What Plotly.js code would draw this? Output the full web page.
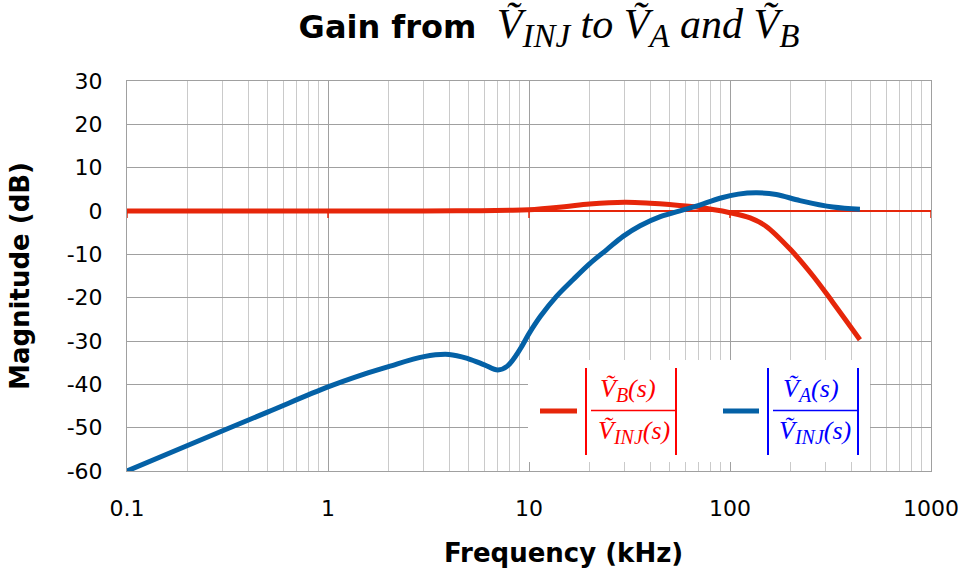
<!DOCTYPE html>
<html>
<head>
<meta charset="utf-8">
<script src="https://cdn.plot.ly/plotly-3.0.1.min.js"></script>
<style>body{margin:0;background:#fff}#chart{width:960px;height:574px}</style>
</head>
<body>
<div id="chart"></div>
<script>
// Frequency (kHz) and magnitude (dB)
const freqA = [0.1, 0.2, 0.5, 1, 1.5, 2, 3, 4, 5, 6, 7, 7.8, 9, 10, 11.4, 13.7, 16.6, 20, 24.4, 29.5, 35.7, 45, 58, 68, 90, 110, 136, 170, 223, 325, 443];
const magA  = [-60, -54.1, -46.4, -40.6, -37.7, -35.9, -33.6, -33.1, -34.1, -35.5, -36.7, -35.8, -32, -28.3, -24.3, -19.7, -15.8, -12.2, -8.9, -5.8, -3.4, -1.3, 0.2, 1.1, 3.0, 3.9, 4.2, 3.8, 2.4, 0.9, 0.4];
const freqB = [0.1, 1, 3, 5, 8, 10, 15, 20, 30, 40, 50, 68, 100, 126, 151, 200, 259, 325, 443];
const magB  = [0, 0, 0, 0.05, 0.15, 0.3, 1.0, 1.6, 2.0, 1.8, 1.5, 0.9, -0.4, -1.6, -3.5, -8.9, -15, -21.1, -29.7];
const xTicks = [0.1, 1, 10, 100, 1000];
const xTickText = ["0.1", "1", "10", "100", "1000"];
const yTicks = [30, 20, 10, 0, -10, -20, -30, -40, -50, -60];
const yTickText = ["30", "20", "10", "0", "-10", "-20", "-30", "-40", "-50", "-60"];

const W = 960, H = 574, L = 127, R = 931, T = 81, B = 471;
const px = x => (x - L) / (R - L);
const py = y => (B - y) / (B - T);

const minorVals = [];
for (let d = 0.1; d < 1000; d *= 10) for (let k = 2; k <= 9; k++) minorVals.push(+(d * k).toPrecision(3));

const RED = '#E6260A', BLUE = '#0461A6';
const SANS = 'DejaVu Sans, Arial, sans-serif';
const serif = 'Liberation Serif, Times New Roman, serif';
const VT = '\u1E7C'; // V with tilde

const traces = [
  {x: freqB, y: magB, mode: 'lines', line: {color: RED, width: 5, shape: 'spline', smoothing: 1}, hoverinfo: 'skip'},
  {x: freqA, y: magA, mode: 'lines', line: {color: BLUE, width: 5, shape: 'spline', smoothing: 1}, hoverinfo: 'skip'}
];

const shapes = [];
// zero-axis tick marks
xTicks.forEach(v => shapes.push({type: 'line', xref: 'x', yref: 'y', ysizemode: 'pixel', yanchor: 0,
  x0: v, x1: v, y0: 0, y1: -7, line: {color: RED, width: 1.5}}));
// legend box
shapes.push({type: 'rect', xref: 'paper', yref: 'paper', x0: px(528), x1: px(870), y0: py(462), y1: py(360),
  fillcolor: '#fff', line: {width: 0}, layer: 'above'});
const seg = (x0, y0, x1, y1, c, w) => shapes.push({type: 'line', xref: 'paper', yref: 'paper', layer: 'above',
  x0: px(x0), x1: px(x1), y0: py(y0), y1: py(y1), line: {color: c, width: w}});
seg(540, 411, 577, 411, RED, 5);
seg(586, 368, 586, 455, '#FF0000', 2);
seg(676, 368, 676, 455, '#FF0000', 2);
seg(591, 410.5, 675, 410.5, '#FF0000', 1.5);
seg(723, 411, 759, 411, BLUE, 5);
seg(768, 368, 768, 455, '#0000FF', 2);
seg(858, 368, 858, 455, '#0000FF', 2);
seg(773, 410.5, 857, 410.5, '#0000FF', 1.5);

const sub = s => '<sub><span style="font-size:20px">' + s + '</span></sub>';
const ann = (x, y, text, c) => ({xref: 'paper', yref: 'paper', x: px(x), y: py(y), xanchor: 'center', yanchor: 'middle',
  showarrow: false, text: text, font: {family: serif, size: 26, color: c}});
const annotations = [
  ann(628, 390, '<i>V\u0303' + sub('B') + '(s)</i>', '#FF0000'),
  ann(634, 432, '<i>V\u0303' + sub('INJ') + '(s)</i>', '#FF0000'),
  ann(811, 390, '<i>V\u0303' + sub('A') + '(s)</i>', '#0000FF'),
  ann(815, 432, '<i>V\u0303' + sub('INJ') + '(s)</i>', '#0000FF'),
  // x-axis title (offset to the right of the plot centre, as in the reference)
  {xref: 'paper', yref: 'paper', x: px(563), y: py(553), xanchor: 'center', yanchor: 'middle', showarrow: false,
   text: '<b>Frequency (kHz)</b>', font: {family: SANS, size: 26, color: '#000'}}
];

const tsub = s => '<sub><span style="font-size:33px">' + s + '</span></sub>';
const layout = {
  width: W, height: H,
  margin: {l: L, r: W - R, t: T, b: H - B, pad: 0},
  paper_bgcolor: '#fff', plot_bgcolor: '#fff',
  showlegend: false,
  title: {
    text: '<b>Gain from</b>  <span style="font-family:Liberation Serif;font-size:42px"><i>' + VT + tsub('INJ') +
      ' to ' + VT + tsub('A') + ' and ' + VT + tsub('B') + '</i></span>',
    x: 549 / W, xanchor: 'center', y: 1 - 27 / H, yanchor: 'middle',
    font: {family: SANS, size: 32, color: '#000'}
  },
  xaxis: {
    type: 'log', range: [-1, 3],
    tickvals: xTicks, ticktext: xTickText, ticks: '',
    tickfont: {family: SANS, size: 22, color: '#000'},
    ticklabelstandoff: 18,
    showgrid: true, gridcolor: '#A0A0A0', gridwidth: 1,
    minor: {tickvals: minorVals, showgrid: true, gridcolor: '#CACACA', gridwidth: 1, ticks: ''},
    showline: true, linecolor: '#A0A0A0', linewidth: 1, mirror: true,
    zeroline: false
  },
  yaxis: {
    range: [-60, 30], tickvals: yTicks, ticktext: yTickText, ticks: '',
    tickfont: {family: SANS, size: 22, color: '#000'},
    ticklabelstandoff: 19,
    showgrid: true, gridcolor: '#A0A0A0', gridwidth: 1,
    showline: true, linecolor: '#A0A0A0', linewidth: 1, mirror: true,
    zeroline: true, zerolinecolor: RED, zerolinewidth: 1.5,
    title: {text: '<b>Magnitude (dB)</b>', standoff: 29,
      font: {family: SANS, size: 26, color: '#000'}}
  },
  shapes: shapes,
  annotations: annotations
};

Plotly.newPlot('chart', traces, layout, {displayModeBar: false, staticPlot: true});
</script>
</body>
</html>
